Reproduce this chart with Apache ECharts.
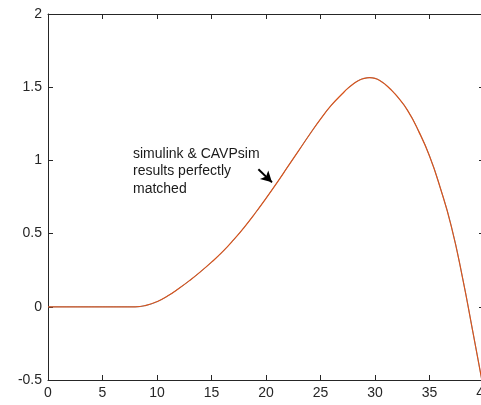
<!DOCTYPE html>
<html lang="en">
<head>
    <meta charset="UTF-8">
    <title>simulink vs CAVPsim</title>
    <script src="https://cdn.jsdelivr.net/npm/echarts@6/dist/echarts.min.js"></script>
    <style>
        html, body { margin: 0; padding: 0; background: #fff; }
        #chart { width: 481px; height: 405px; }
    </style>
</head>
<body>
    <div id="chart"></div>
    <script>
        // 数据
        var xs = [0, 1, 2, 3, 4, 5, 6, 7, 8, 9, 10, 11, 12, 13, 14, 15, 16, 17, 18, 19, 20,
                  21, 22, 23, 24, 25, 26, 27, 27.5, 28, 28.5, 29, 29.5, 30, 30.5, 31, 31.5, 32,
                  33, 34, 35, 36, 37, 38, 39, 40];
        var ys = [0, 0, 0, 0, 0, 0, 0, 0, 0, 0.01, 0.035, 0.075, 0.125, 0.18, 0.24, 0.305, 0.375, 0.455, 0.543, 0.639, 0.741,
                  0.847, 0.957, 1.067, 1.177, 1.282, 1.377, 1.455, 1.492, 1.522, 1.546, 1.56, 1.565, 1.56, 1.543, 1.515, 1.48, 1.44,
                  1.34, 1.2, 1.03, 0.81, 0.55, 0.21, -0.18, -0.58];
        var noteLines = ['simulink & CAVPsim', 'results perfectly', 'matched'];
        var arrowFrom = [19.3, 0.94];
        var arrowTo = [20.55, 0.85];

        var pts = xs.map(function (x, i) { return [x, ys[i]]; });

        var axisColor = '#262626';
        var labelStyle = { color: axisColor, fontSize: 14, fontFamily: 'Arial, Liberation Sans, sans-serif' };

        var chart = echarts.init(document.getElementById('chart'));
        chart.setOption({
            animation: false,
            grid: { left: 48, top: 14, right: -3, bottom: 25, outerBoundsMode: 'none', containLabel: false },
            xAxis: [{
                type: 'value', min: 0, max: 40, interval: 5,
                axisLine: { onZero: false, lineStyle: { color: axisColor, width: 1 } },
                axisTick: { inside: true, length: 5, lineStyle: { color: axisColor } },
                axisLabel: Object.assign({ margin: 6 }, labelStyle),
                splitLine: { show: false }
            }, {
                type: 'value', position: 'top', min: 0, max: 40, interval: 5,
                axisLine: { onZero: false, lineStyle: { color: axisColor, width: 1 } },
                axisTick: { inside: true, length: 5, lineStyle: { color: axisColor } },
                axisLabel: { show: false },
                splitLine: { show: false }
            }],
            yAxis: [{
                type: 'value', min: -0.5, max: 2, interval: 0.5,
                axisLine: { show: true, onZero: false, lineStyle: { color: axisColor, width: 1 } },
                axisTick: { show: true, inside: true, length: 5, lineStyle: { color: axisColor } },
                axisLabel: Object.assign({ margin: 6 }, labelStyle),
                splitLine: { show: false }
            }, {
                type: 'value', position: 'right', min: -0.5, max: 2, interval: 0.5,
                axisLine: { show: true, onZero: false, lineStyle: { color: axisColor, width: 1 } },
                axisTick: { show: true, inside: true, length: 5, lineStyle: { color: axisColor } },
                axisLabel: { show: false },
                splitLine: { show: false }
            }],
            series: [{
                name: 'simulink',
                type: 'line',
                data: pts,
                smooth: true,
                showSymbol: false,
                lineStyle: { color: '#0072BD', width: 0.6 }
            }, {
                name: 'CAVPsim',
                type: 'line',
                data: pts,
                smooth: true,
                showSymbol: false,
                lineStyle: { color: '#D95319', width: 1.2 },
                markLine: {
                    silent: true,
                    symbol: ['none', 'arrow'],
                    symbolSize: [9, 11],
                    label: { show: false },
                    lineStyle: { color: '#000', width: 2, type: 'solid' },
                    data: [[{ coord: arrowFrom }, { coord: arrowTo }]]
                }
            }],
            graphic: [{
                type: 'text',
                left: 133,
                top: 145,
                style: {
                    text: noteLines.join('\n'),
                    fill: '#1a1a1a',
                    font: '14px Arial, "Liberation Sans", sans-serif',
                    lineHeight: 17.5
                }
            }]
        });
    </script>
</body>
</html>
